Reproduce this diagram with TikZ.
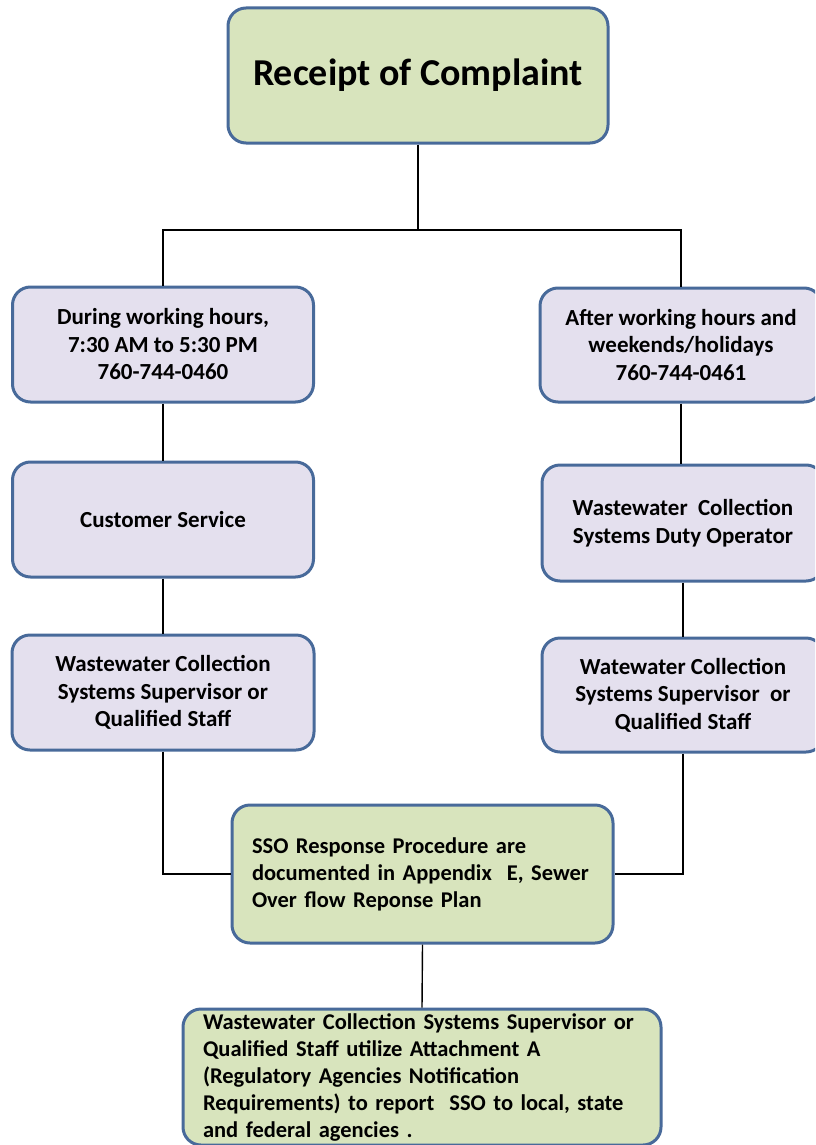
\documentclass[tikz,border=0pt]{standalone}
\usepackage{fontspec}
\setmainfont{Carlito}
\definecolor{boxline}{RGB}{72,106,154}
\definecolor{sagefill}{RGB}{216,228,189}
\definecolor{lavfill}{RGB}{228,224,238}
\tikzset{
  flowbox/.style={draw=boxline, line width=3pt, rounded corners=18pt,
    font=\bfseries\fontsize{23}{27.5}\selectfont},
  lavbox/.style={flowbox, fill=lavfill, align=center},
  sagebox/.style={flowbox, fill=sagefill, font=\bfseries\fontsize{22.5}{27}\selectfont},
  link/.style={draw=black, line width=1.4pt}
}
\begin{document}
\begin{tikzpicture}[x=1pt,y=-1pt]
  \useasboundingbox (0,0) rectangle (815,1145);
  \clip (0,0) rectangle (815,1145);

  \node[sagebox, minimum width=380pt, minimum height=135pt,
    font=\bfseries\fontsize{38}{44}\selectfont] (complaint) at (418,75.5) {Receipt of Complaint};

  \node[lavbox, minimum width=301pt, minimum height=115pt] (workhrs) at (163,344.5)
    {During working hours,\\7:30 AM to 5:30 PM\\760-744-0460};
  \node[lavbox, minimum width=282pt, minimum height=114pt] (afterhrs) at (681,345)
    {After working hours and\\weekends/holidays\\760-744-0461};

  \node[lavbox, minimum width=301pt, minimum height=115pt] (custsvc) at (163,519.5)
    {Customer Service};
  \node[lavbox, minimum width=282pt, minimum height=116pt] (dutyop) at (683,523)
    {Wastewater\ \ Collection\\Systems Duty Operator};

  \node[lavbox, minimum width=302pt, minimum height=115pt] (supleft) at (163,692.5)
    {Wastewater Collection\\Systems Supervisor or\\Qualified Staff};
  \node[lavbox, minimum width=282pt, minimum height=114pt] (supright) at (683,695)
    {Watewater Collection\\Systems Supervisor\ \ or\\Qualified Staff};

  \node[sagebox, minimum width=381pt, minimum height=138pt, text width=341pt,
    align=left] (ssoproc) at (422.5,874)
    {SSO Response Procedure are\\documented in Appendix\ \ E, Sewer\\Over flow Reponse Plan};

  \node[sagebox, minimum width=478pt, minimum height=136pt, text width=438pt,
    align=left, inner sep=2pt] (report) at (422,1077)
    {Wastewater Collection Systems Supervisor or\\Qualified Staff utilize Attachment A\\(Regulatory Agencies Notification\\Requirements) to report\ \ SSO to local, state\\and federal agencies .};

  % connectors
  \coordinate (split) at (418,230);
  \draw[link] (complaint.south) -- (split);
  \draw[link] (workhrs.north) -- (workhrs.north |- split) -| (afterhrs.north);
  \draw[link] (workhrs.south) -- (custsvc.north);
  \draw[link] (custsvc.south) -- (supleft.north);
  \draw[link] (afterhrs.south) -- (afterhrs.south |- dutyop.north);
  \draw[link] (dutyop.south) -- (supright.north);
  \draw[link] (supleft.south) |- (ssoproc.west);
  \draw[link] (supright.south) |- (ssoproc.east);
  \draw[link] (ssoproc.south) -- (report.north);
\end{tikzpicture}
\end{document}
